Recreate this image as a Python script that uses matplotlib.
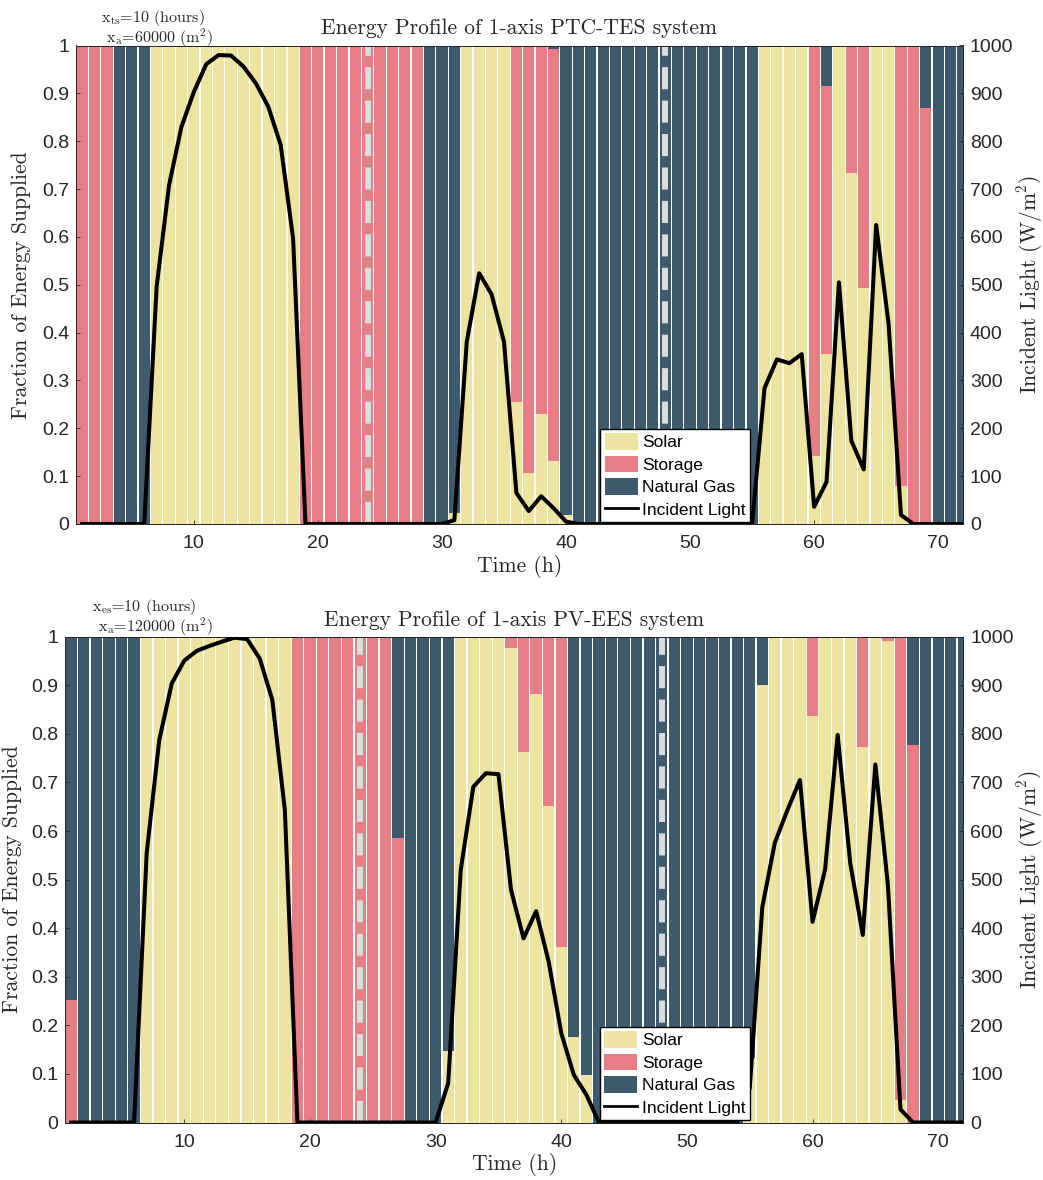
import matplotlib
matplotlib.use('Agg')
import matplotlib.pyplot as plt
import numpy as np
from matplotlib.patches import Patch
from matplotlib.lines import Line2D
from matplotlib.ticker import MultipleLocator, FuncFormatter

plt.rcParams['mathtext.fontset'] = 'cm'
plt.rcParams['font.family'] = ['Liberation Sans', 'DejaVu Sans']
plt.rcParams['axes.unicode_minus'] = False

hours = np.arange(1, 73)
day_marks = [24, 48]

# ---------------- PTC-TES (top) ----------------
ptc_solar = [0, 0, 0, 0, 0, 0, 1, 1, 1, 1, 1, 1,
             1, 1, 1, 1, 1, 1, 0, 0, 0, 0, 0, 0,
             0, 0, 0, 0, 0, 0, 0.022, 1, 1, 1, 1, 0.256,
             0.107, 0.229, 0.132, 0.019, 0, 0, 0, 0, 0, 0, 0, 0,
             0, 0, 0, 0, 0, 0, 0, 1, 1, 1, 1, 0.142,
             0.355, 1, 0.733, 0.494, 1, 1, 0.08, 0, 0, 0, 0, 0]
ptc_storage = [1, 1, 1, 0, 0, 0, 0, 0, 0, 0, 0, 0,
               0, 0, 0, 0, 0, 0, 1, 1, 1, 1, 1, 1,
               1, 1, 1, 1, 0, 0, 0, 0, 0, 0, 0, 0.744,
               0.893, 0.771, 0.860, 0, 0, 0, 0, 0, 0, 0, 0, 0,
               0, 0, 0, 0, 0, 0, 0, 0, 0, 0, 0, 0.858,
               0.560, 0, 0.267, 0.506, 0, 0, 0.92, 1, 0.87, 0, 0, 0]
ptc_gas = [0, 0, 0, 1, 1, 1, 0, 0, 0, 0, 0, 0,
           0, 0, 0, 0, 0, 0, 0, 0, 0, 0, 0, 0,
           0, 0, 0, 0, 1, 1, 0.978, 0, 0, 0, 0, 0,
           0, 0, 0.008, 0.981, 1, 1, 1, 1, 1, 1, 1, 1,
           1, 1, 1, 1, 1, 1, 1, 0, 0, 0, 0, 0,
           0.085, 0, 0, 0, 0, 0, 0, 0, 0.13, 1, 1, 1]
ptc_light = [0, 0, 0, 0, 0, 0, 496, 708, 830, 903, 961, 980,
             979, 956, 921, 872, 792, 597, 0, 0, 0, 0, 0, 0,
             0, 0, 0, 0, 0, 0, 8, 381, 524, 480, 381, 65,
             27, 58, 33, 5, 0, 0, 0, 0, 0, 0, 0, 0,
             0, 0, 0, 0, 0, 0, 0, 284, 344, 336, 355, 36,
             88, 505, 174, 114, 625, 419, 19, 0, 0, 0, 0, 0]

# ---------------- PV-EES (bottom) ----------------
pv_solar = [0, 0, 0, 0, 0, 0, 1, 1, 1, 1, 1, 1,
            1, 1, 1, 1, 1, 1, 0, 0, 0, 0, 0, 0,
            0, 0, 0, 0, 0, 0, 0.147, 1, 1, 1, 1, 0.976,
            0.763, 0.883, 0.652, 0.362, 0.177, 0.098, 0, 0, 0, 0, 0, 0,
            0, 0, 0, 0, 0, 0, 0.132, 0.9, 1, 1, 1, 0.837,
            1, 1, 1, 0.772, 1, 0.991, 0.046, 0, 0, 0, 0, 0]
pv_storage = [0.252, 0, 0, 0, 0, 0, 0, 0, 0, 0, 0, 0,
              0, 0, 0, 0, 0, 0, 1, 1, 1, 1, 1, 1,
              1, 1, 0.585, 0, 0, 0, 0, 0, 0, 0, 0, 0.024,
              0.237, 0.117, 0.348, 0.638, 0, 0, 0, 0, 0, 0, 0, 0,
              0, 0, 0, 0, 0, 0, 0, 0, 0, 0, 0, 0.163,
              0, 0, 0, 0.228, 0, 0.009, 0.954, 0.778, 0, 0, 0, 0]
pv_gas = [0.748, 1, 1, 1, 1, 1, 0, 0, 0, 0, 0, 0,
          0, 0, 0, 0, 0, 0, 0, 0, 0, 0, 0, 0,
          0, 0, 0.415, 1, 1, 1, 0.853, 0, 0, 0, 0, 0,
          0, 0, 0, 0, 0.823, 0.902, 1, 1, 1, 1, 1, 1,
          1, 1, 1, 1, 1, 1, 0.868, 0.1, 0, 0, 0, 0,
          0, 0, 0, 0, 0, 0, 0, 0.222, 1, 1, 1, 1]
pv_light = [0, 0, 0, 0, 0, 0, 554, 787, 904, 951, 971, 981,
            990, 998, 995, 955, 870, 643, 0, 0, 0, 0, 0, 0,
            0, 0, 0, 0, 0, 0, 81, 520, 691, 719, 717, 479,
            379, 435, 331, 184, 98, 57, 0, 0, 0, 0, 0, 0,
            0, 0, 0, 0, 0, 0, 70, 443, 576, 643, 705, 413,
            521, 798, 534, 386, 737, 489, 27, 0, 0, 0, 0, 0]

C_SOLAR = '#EDE4A2'
C_STORAGE = '#E87E85'
C_GAS = '#3E5B6D'
C_TXT = '#262626'
SERIF = 'cmr10'

fig = plt.figure(figsize=(10.43, 11.8), dpi=100)


def fmt_frac(v, pos):
    return f'{v:g}'


def panel(rect, solar, storage, gas, light, title, ann1, ann2, ann1_xy, ann2_xy, leg_anchor,
          ylab_pad):
    solar = np.array(solar, float)
    storage = np.array(storage, float)
    gas = np.array(gas, float)
    ax = fig.add_axes(rect)
    ax.bar(hours, solar, width=0.9, color=C_SOLAR, linewidth=0, zorder=1)
    ax.bar(hours, storage, bottom=solar, width=0.9, color=C_STORAGE, linewidth=0, zorder=1)
    ax.bar(hours, gas, bottom=solar + storage, width=0.9, color=C_GAS, linewidth=0, zorder=1)
    for d in day_marks:
        ax.axvline(d, color='#DCDCDC', lw=4.3, ls=(0, (3.7, 1.9)), zorder=2)
    ax.set_xlim(0.5, 72)
    ax.set_ylim(0, 1)
    ax.xaxis.set_major_locator(MultipleLocator(10))
    ax.yaxis.set_major_locator(MultipleLocator(0.1))
    ax.yaxis.set_major_formatter(FuncFormatter(fmt_frac))
    ax.tick_params(axis='both', direction='in', length=3, width=0.6, colors=C_TXT,
                   labelsize=14, pad=5)
    ax.tick_params(axis='x', pad=8)
    for s in ax.spines.values():
        s.set_color(C_TXT)
        s.set_linewidth(0.7)
    ax.set_xlabel('Time (h)', family=SERIF, fontsize=15.5, color=C_TXT, labelpad=2)
    ax.set_ylabel('Fraction of Energy Supplied', family=SERIF, fontsize=15.5, color=C_TXT,
                  labelpad=ylab_pad)
    ax.set_title(title, family=SERIF, fontsize=15.5, color=C_TXT, pad=8)

    ax2 = ax.twinx()
    ax2.plot(hours, light, color='black', lw=2.9, zorder=3)
    ax2.set_ylim(0, 1000)
    ax2.yaxis.set_major_locator(MultipleLocator(100))
    ax2.tick_params(axis='y', direction='in', length=3, width=0.6, colors=C_TXT,
                    labelsize=14, pad=5)
    for s in ax2.spines.values():
        s.set_color(C_TXT)
        s.set_linewidth(0.7)
    ax2.set_ylabel(r'Incident Light (W/m$^2$)', family=SERIF, fontsize=15.5, color=C_TXT,
                   labelpad=1)

    handles = [Patch(facecolor=C_SOLAR, edgecolor='none', label='Solar'),
               Patch(facecolor=C_STORAGE, edgecolor='none', label='Storage'),
               Patch(facecolor=C_GAS, edgecolor='none', label='Natural Gas'),
               Line2D([0], [0], color='black', lw=2, label='Incident Light')]
    leg = ax2.legend(handles=handles, loc='lower left', bbox_to_anchor=leg_anchor,
                     borderaxespad=0, fontsize=12.5, frameon=True, fancybox=False,
                     edgecolor='black', framealpha=1, handlelength=1.9, handleheight=1.1,
                     handletextpad=0.25, labelspacing=0.3, borderpad=0.25)
    leg.get_frame().set_linewidth(1.0)

    fig.text(ann1_xy[0], ann1_xy[1], ann1, family=SERIF, fontsize=11.5, color=C_TXT,
             ha='center', va='center')
    fig.text(ann2_xy[0], ann2_xy[1], ann2, family=SERIF, fontsize=11.5, color=C_TXT,
             ha='center', va='center')
    return ax, ax2


W, H = 1043.0, 1180.0
panel([76 / W, 1 - 524 / H, 887 / W, 478.5 / H],
      ptc_solar, ptc_storage, ptc_gas, ptc_light,
      'Energy Profile of 1-axis PTC-TES system',
      r'x$_{\rm ts}$=10 (hours)', r'x$_{\rm a}$=60000 (m$^2$)',
      (153 / W, 1 - 18 / H), (159 / W, 1 - 38 / H), (0.591, 0.004), 8)

panel([65 / W, 1 - 1122.5 / H, 898.3 / W, 485.8 / H],
      pv_solar, pv_storage, pv_gas, pv_light,
      'Energy Profile of 1-axis PV-EES system',
      r'x$_{\rm es}$=10 (hours)', r'x$_{\rm a}$=120000 (m$^2$)',
      (144 / W, 1 - 607 / H), (155 / W, 1 - 627 / H), (0.5956, 0.005), 6)

fig.savefig('out.png', dpi=100)
